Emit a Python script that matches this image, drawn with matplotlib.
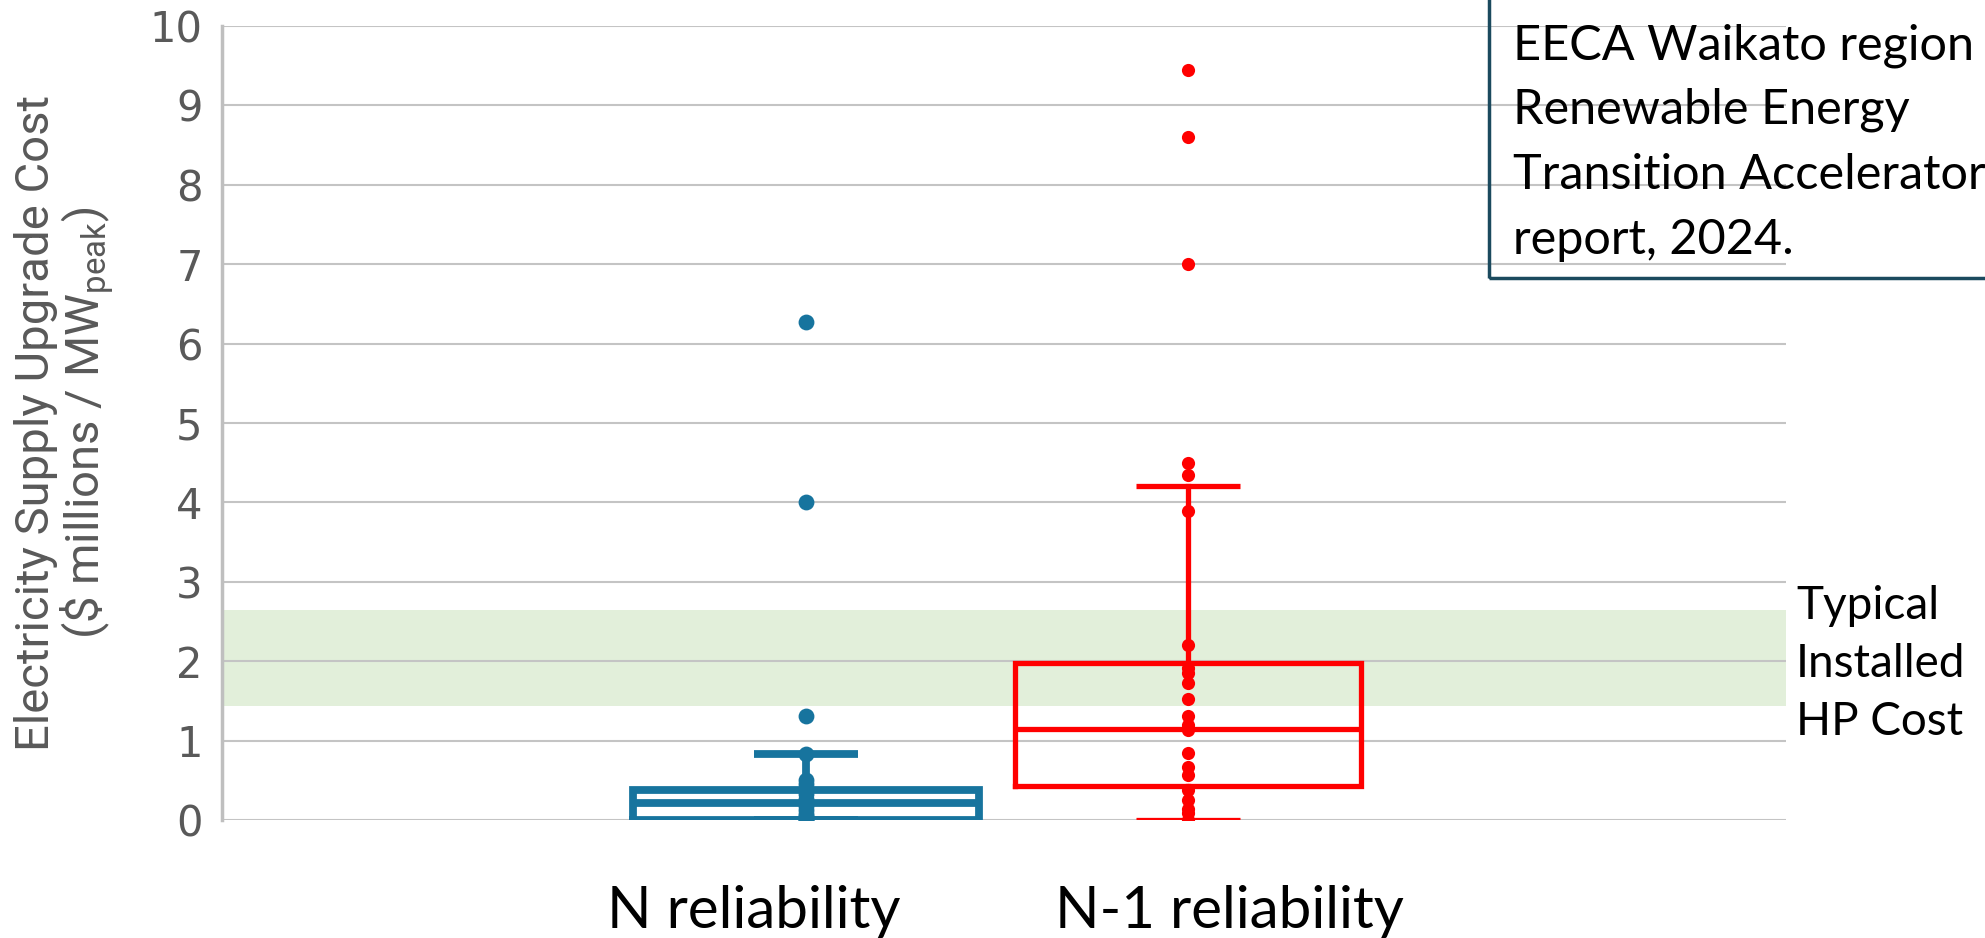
import matplotlib.pyplot as plt
from matplotlib.patches import Rectangle

plt.rcParams['mathtext.default'] = 'regular'

# --- data ---
categories = ["N reliability", "N-1 reliability"]
positions = [1, 2]

# individual projects ($ millions / MW peak)
n_points = [0.0, 0.0, 0.02, 0.05, 0.08, 0.12, 0.18, 0.22, 0.27, 0.33, 0.38,
            0.45, 0.50, 0.83, 1.31, 4.0, 6.27]
n1_points = [0.0, 0.09, 0.14, 0.25, 0.38, 0.57, 0.67, 0.84, 1.13, 1.20, 1.31,
             1.52, 1.73, 1.85, 1.92, 2.20, 3.89, 4.35, 4.49, 7.0, 8.6, 9.45]

# box stats: whisker low, Q1, median, Q3, whisker high
n_box = [0.0, 0.0, 0.22, 0.38, 0.83]
n1_box = [0.0, 0.43, 1.14, 1.98, 4.21]

hp_band = [1.43, 2.64]
hp_lines = ["Typical", "Installed", "HP Cost"]
note_lines = ["EECA Waikato region \u2013", "Renewable Energy",
              "Transition Accelerator", "report, 2024."]

ylabel = "Electricity Supply Upgrade Cost\n(\\$ millions / MW$_{peak}$)"

colors = ["#17749E", "#FF0000"]
line_widths = [5.6, 3.8]
marker_sizes = [130, 90]

text_font = ['Lato', 'DejaVu Sans']
label_font = ['Roboto', 'DejaVu Sans']

W, H = 1985, 938
fig = plt.figure(figsize=(W / 100, H / 100), dpi=100)
ax = fig.add_axes([222 / W, 1 - 820 / H, (1786 - 222) / W, (820 - 26) / H])

# green band for typical heat pump cost
ax.axhspan(hp_band[0], hp_band[1], color="#E2EFDA", lw=0, zorder=0.2)

for pos, box, pts, col, lw, ms in zip(positions, [n_box, n1_box],
                                       [n_points, n1_points], colors,
                                       line_widths, marker_sizes):
    stats = [dict(whislo=box[0], q1=box[1], med=box[2], q3=box[3],
                  whishi=box[4], fliers=[])]
    lp = dict(color=col, lw=lw, solid_joinstyle='miter')
    ax.bxp(stats, positions=[pos], widths=0.906, capwidths=0.272,
           showfliers=False, manage_ticks=False,
           boxprops=lp, whiskerprops=lp, medianprops=lp,
           capprops=dict(color=col, lw=lw, solid_capstyle='butt'))
    ax.scatter([pos] * len(pts), pts, s=ms, color=col, lw=0, zorder=5)

ax.set_xlim(-0.529, 3.565)
ax.set_ylim(0, 10)
ax.set_yticks(range(0, 11))
ax.set_xticks([])
ax.tick_params(axis='y', length=0, pad=14, labelsize=30, labelcolor="#595959")
ax.yaxis.grid(True, color="#C4C4C4", lw=1.5)
ax.set_axisbelow(True)
for s in ['top', 'right', 'bottom']:
    ax.spines[s].set_visible(False)
ax.spines['left'].set_color("#BFBFBF")
ax.spines['left'].set_linewidth(2.5)

ax.text(-0.1, 0.5, ylabel, rotation=90, ha='center', va='center',
        multialignment='center', transform=ax.transAxes, fontsize=34,
        color="#595959", family=label_font, linespacing=1.0)

# category labels
for xc, lab in zip([754, 1229], categories):
    fig.text(xc / W, 1 - 928 / H, lab, ha='center', va='baseline',
             fontsize=42, family=text_font)

# band label
for i, line in enumerate(hp_lines):
    fig.text(1796 / W, 1 - (619 + 58 * i) / H, line, ha='left', va='baseline',
             fontsize=33, family=text_font)

# source note box
fig.patches.append(Rectangle((1489 / W, 1 - 278 / H), 0.4, 0.5,
                             transform=fig.transFigure, fill=False,
                             edgecolor="#1B4A5E", lw=2.5, clip_on=False))
for i, line in enumerate(note_lines):
    fig.text(1513 / W, 1 - (59 + 65 * i) / H, line, ha='left', va='baseline',
             fontsize=35, family=text_font)

fig.savefig("out.png", dpi=100)
